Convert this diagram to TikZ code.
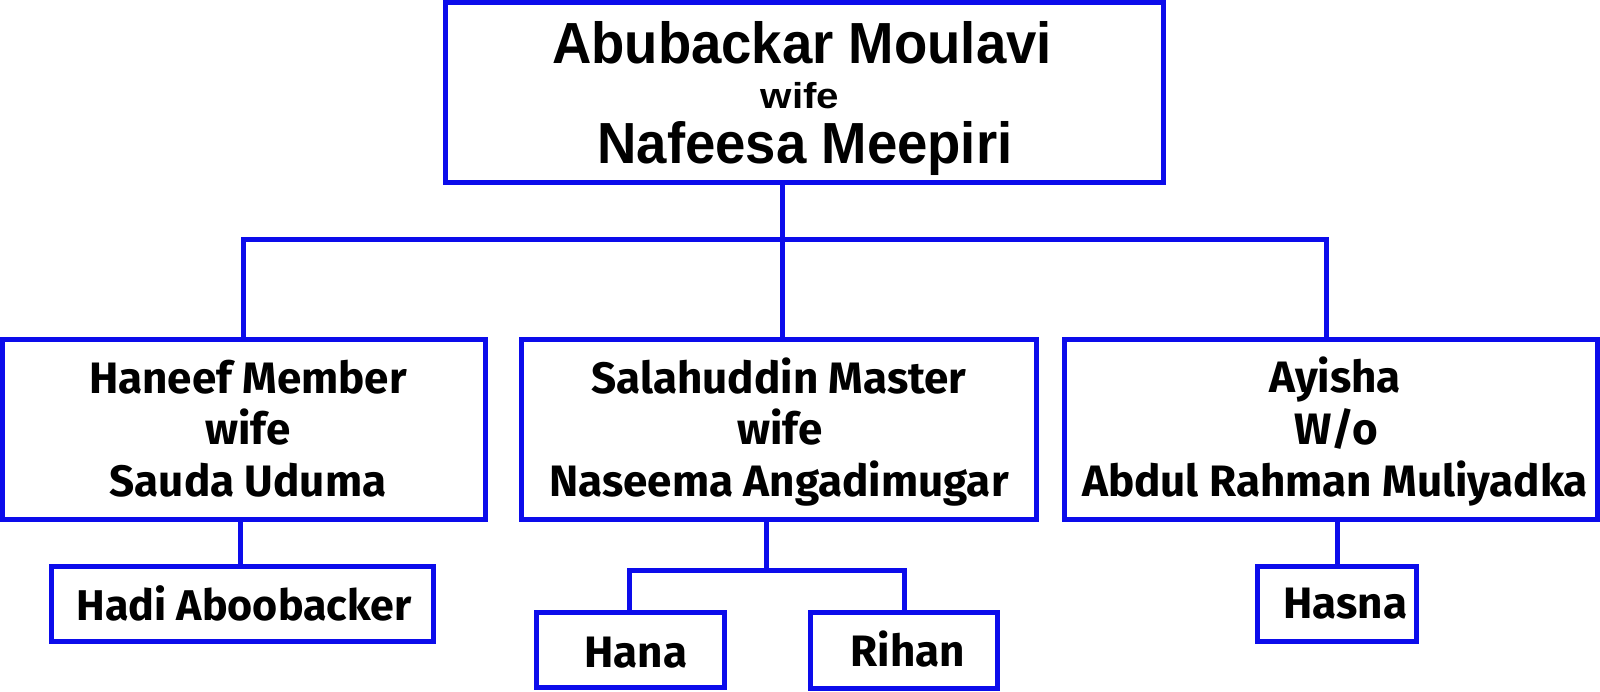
\documentclass[tikz,border=0pt]{standalone}
\usepackage{fontspec}
\newfontfamily\topfont{Liberation Sans}[FakeStretch=0.94]
\newfontfamily\wifefont{Liberation Sans}[FakeStretch=1.12]
\newfontfamily\boxfont{Fira Sans}
\definecolor{lineblue}{RGB}{12,12,235}
\begin{document}
\begin{tikzpicture}[x=1pt,y=-1pt,
  box/.style 2 args={draw=lineblue,line width=5pt,inner sep=0pt,fill=white,minimum width=#1,minimum height=#2},
  conn/.style={draw=lineblue,line width=5pt,line join=miter},
  bigtxt/.style={font={\topfont\bfseries\fontsize{58pt}{62pt}\selectfont},anchor=base,inner sep=0pt},
  smalltxt/.style={font={\wifefont\bfseries\fontsize{36pt}{40pt}\selectfont},anchor=base,inner sep=0pt},
  boxtxt/.style={font={\boxfont\bfseries\fontsize{44pt}{51.5pt}\selectfont},anchor=base,inner sep=0pt}]
\useasboundingbox (0,0) rectangle (1600,691);
\fill[white] (0,0) rectangle (1600,691);
% boxes
\node[box={718pt}{180pt}] (t) at (804.5,92.5) {};
\node[box={483pt}{180pt}] (b1) at (244,429) {};
\node[box={515pt}{180pt}] (b2) at (778.5,429) {};
\node[box={533pt}{180pt}] (b3) at (1331,429) {};
\node[box={382pt}{75pt}] (hadi) at (242.5,603.5) {};
\node[box={188pt}{75.5pt}] (hana) at (630.5,650) {};
\node[box={187pt}{76pt}] (rihan) at (904,650) {};
\node[box={158.5pt}{74.5pt}] (hasna) at (1337,604) {};
% connector points
\coordinate (xl) at (243.5,239.5);
\coordinate (xm) at (782.5,239.5);
\coordinate (xr) at (1326,239.5);
\coordinate (s2) at (766.5,570);
\coordinate (ha) at (629.5,570);
\coordinate (ri) at (904.5,570);
\coordinate (c1) at (240.5,0);
\coordinate (c3) at (1337.5,0);
% connectors
\draw[conn] (t.south -| xm) -- (b2.north -| xm);
\draw[conn] (b1.north -| xl) -- (xl) -- (xr) -- (b3.north -| xr);
\draw[conn] (b1.south -| c1) -- (hadi.north -| c1);
\draw[conn] (b2.south -| s2) -- (s2);
\draw[conn] (hana.north -| ha) -- (ha) -- (ri) -- (rihan.north -| ri);
\draw[conn] (b3.south -| c3) -- (hasna.north -| c3);
% texts
\node[bigtxt] (ta) at (802,63) {Abubackar Moulavi};
\node[smalltxt] (tb) at (800,108) {wife};
\node[bigtxt] (tc) at (805,163) {Nafeesa Meepiri};
\node[boxtxt] (b1a) at (248,393) {Haneef Member};
\node[boxtxt] (b1b) at (248,444) {wife};
\node[boxtxt] (b1c) at (248,496) {Sauda Uduma};
\node[boxtxt] (b2a) at (779,393) {Salahuddin Master};
\node[boxtxt] (b2b) at (780,444) {wife};
\node[boxtxt] (b2c) at (779,496) {Naseema Angadimugar};
\node[boxtxt] (b3a) at (1335,392) {Ayisha};
\node[boxtxt] (b3b) at (1336,444) {W/o};
\node[boxtxt] (b3c) at (1335,496) {Abdul Rahman Muliyadka};
\node[boxtxt] (hadit) at (244,620) {\fontsize{43pt}{50pt}\selectfont Hadi Aboobacker};
\node[boxtxt] (hanat) at (636,667) {Hana};
\node[boxtxt] (rihant) at (908,666) {Rihan};
\node[boxtxt] (hasnat) at (1345.5,618) {Hasna};
\end{tikzpicture}
\end{document}
